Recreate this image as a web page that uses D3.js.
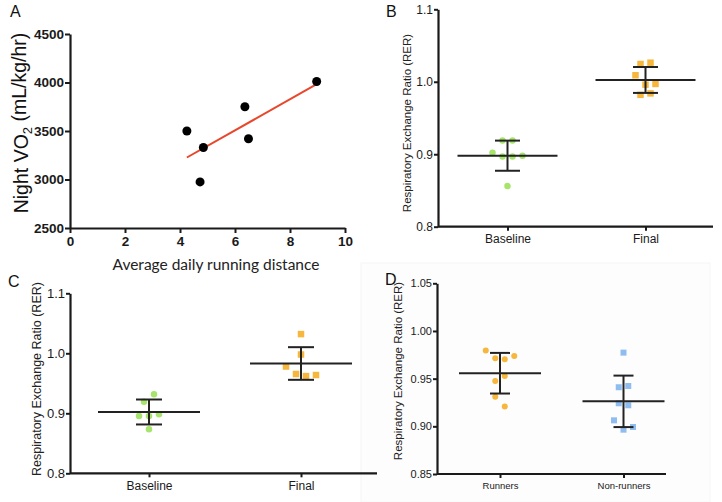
<!DOCTYPE html>
<html>
<head>
<meta charset="utf-8">
<script src="https://cdn.jsdelivr.net/npm/d3@7"></script>
<style>
  html, body { margin: 0; padding: 0; background: #ffffff; }
  svg { display: block; }
</style>
</head>
<body>
<svg id="chart" width="722" height="502"></svg>
<script>
// ---------------- DATA ----------------
// Panel A: night VO2 vs average daily running distance
const aDistance = [4.25, 4.85, 4.73, 6.36, 6.49, 8.97];
const aVO2 = [3500, 3330, 2975, 3750, 3420, 4010];
const aXTicks = [0, 2, 4, 6, 8, 10];
const aYTicks = [2500, 3000, 3500, 4000, 4500];

// Panel B: RER baseline vs final
const bCategories = ["Baseline", "Final"];
const bBaseline = [0.919, 0.919, 0.902, 0.897, 0.897, 0.898, 0.856];
const bFinal = [1.0245, 1.0263, 1.009, 0.996, 0.997, 0.982, 0.984];
const bMeans = [0.898, 1.0025];
const bSDs = [0.0208, 0.0179];
const bYTicks = [0.8, 0.9, 1.0, 1.1];

// Panel C: RER baseline vs final
const cCategories = ["Baseline", "Final"];
const cBaseline = [0.9194, 0.9317, 0.8955, 0.8955, 0.8983, 0.8733];
const cFinal = [1.032, 0.998, 0.978, 0.9655, 0.962, 0.9638];
const cMeans = [0.9022, 0.9830];
const cSDs = [0.0208, 0.0272];
const cYTicks = [0.8, 0.9, 1.0, 1.1];

// Panel D: RER runners vs non-runners
const dCategories = ["Runners", "Non-runners"];
const dRunners = [0.9794, 0.9714, 0.9703, 0.9738, 0.9476, 0.9528, 0.9311, 0.9207];
const dNonRunners = [0.9773, 0.941, 0.9423, 0.9242, 0.9221, 0.9063, 0.8965, 0.8993];
const dMeans = [0.9557, 0.9262];
const dSDs = [0.0213, 0.0270];
const dYTicks = [0.85, 0.90, 0.95, 1.00, 1.05];

// ---------------- DRAWING ----------------
const svg = d3.select("#chart");
const FONT = "'Liberation Sans', Arial, Helvetica, sans-serif";
const INK = "#1a1a1a";

// faint panel background in D
svg.append("rect").attr("x", 361).attr("y", 263).attr("width", 349).attr("height", 239)
  .attr("fill", "#fdfdfd").attr("stroke", "#f6f6f6").attr("stroke-width", 1);

function panelLabel(txt, x, y) {
  svg.append("text").attr("x", x).attr("y", y).text(txt)
    .attr("font-family", FONT).attr("font-size", 16).attr("fill", "#111");
}

function styleAxis(g, fontSize, weight) {
  g.select(".domain").attr("stroke", INK).attr("stroke-width", 2.2);
  g.selectAll(".tick line").attr("stroke", INK).attr("stroke-width", 2);
  g.selectAll(".tick text").attr("font-family", FONT).attr("font-size", fontSize)
    .attr("font-weight", weight).attr("fill", "#1a1a1a");
}

// ---- Panel A ----
(function () {
  const x = d3.scaleLinear().domain([0, 10]).range([70, 345]);
  const y = d3.scaleLinear().domain([2500, 4500]).range([228, 34]);

  const gx = svg.append("g").attr("transform", "translate(0,228)")
    .call(d3.axisBottom(x).tickValues(aXTicks).tickFormat(d3.format("d"))
      .tickSize(5).tickSizeOuter(0).tickPadding(3));
  styleAxis(gx, 13.5, "bold");
  const gy = svg.append("g").attr("transform", "translate(70,0)")
    .call(d3.axisLeft(y).tickValues(aYTicks).tickFormat(d3.format("d"))
      .tickSize(5).tickSizeOuter(0).tickPadding(1));
  styleAxis(gy, 13.5, "bold");

  // least-squares line
  const mx = d3.mean(aDistance), my = d3.mean(aVO2);
  let sxy = 0, sxx = 0;
  aDistance.forEach((d, i) => { sxy += (d - mx) * (aVO2[i] - my); sxx += (d - mx) * (d - mx); });
  const slope = sxy / sxx, intercept = my - slope * mx;
  const [x0, x1] = d3.extent(aDistance);
  svg.append("line")
    .attr("x1", x(x0)).attr("y1", y(intercept + slope * x0))
    .attr("x2", x(x1)).attr("y2", y(intercept + slope * x1))
    .attr("stroke", "#e8472c").attr("stroke-width", 2);

  svg.append("g").selectAll("circle").data(aDistance).join("circle")
    .attr("cx", d => x(d)).attr("cy", (d, i) => y(aVO2[i])).attr("r", 4.5)
    .attr("fill", "#000");

  const t = svg.append("text")
    .attr("transform", "translate(21,123) rotate(-90)")
    .attr("text-anchor", "middle").attr("dy", "0.35em")
    .attr("font-family", FONT).attr("font-size", 19.5).attr("fill", "#111");
  t.append("tspan").text("Night VO");
  t.append("tspan").text("2").attr("font-size", 13).attr("dy", "0.3em");
  t.append("tspan").text(" (mL/kg/hr)").attr("dy", "-0.3em");

  svg.append("text").attr("x", 216).attr("y", 270).attr("text-anchor", "middle")
    .attr("font-family", "Lato, 'Open Sans', sans-serif").attr("font-size", 15.5).attr("fill", "#222")
    .text("Average daily running distance");

  panelLabel("A", 10, 17);
})();

// ---- Generic dot/SD panel ----
function rowOffsets(values, y, threshold, spacing) {
  const idx = values.map((v, i) => i).sort((a, b) => y(values[a]) - y(values[b]));
  const offsets = new Array(values.length).fill(0);
  let group = [];
  let startY = null;
  const flush = () => {
    group.sort((a, b) => a - b);
    group.forEach((gi, k) => { offsets[gi] = (k - (group.length - 1) / 2) * spacing; });
    group = [];
  };
  idx.forEach(i => {
    const py = y(values[i]);
    if (startY === null || py - startY > threshold) { flush(); startY = py; }
    group.push(i);
  });
  flush();
  return offsets;
}

function dotPanel(cfg) {
  const y = d3.scaleLinear().domain(cfg.yDomain).range([cfg.bottom, cfg.top]);
  const x = d3.scalePoint().domain(cfg.categories).range(cfg.catRange);

  // axes
  svg.append("line").attr("x1", cfg.left).attr("x2", cfg.right)
    .attr("y1", cfg.bottom).attr("y2", cfg.bottom).attr("stroke", INK).attr("stroke-width", 2.2);
  const gx = svg.append("g").attr("transform", `translate(0,${cfg.bottom})`)
    .call(d3.axisBottom(x).tickSize(4).tickSizeOuter(0).tickPadding(4));
  gx.select(".domain").remove();
  styleAxis(gx, cfg.catFont, "normal");

  const gy = svg.append("g").attr("transform", `translate(${cfg.left},0)`)
    .call(d3.axisLeft(y).tickValues(cfg.yTicks).tickFormat(d3.format(cfg.fmt))
      .tickSize(4).tickSizeOuter(0).tickPadding(1));
  styleAxis(gy, cfg.tickFont, "normal");

  // points
  cfg.series.forEach((vals, si) => {
    const cx = x(cfg.categories[si]);
    const offs = rowOffsets(vals, y, cfg.rowThreshold, cfg.spacing);
    const g = svg.append("g");
    if (cfg.shapes[si] === "circle") {
      g.selectAll("circle").data(vals).join("circle")
        .attr("cx", (d, i) => cx + offs[i]).attr("cy", d => y(d))
        .attr("r", cfg.size / 2).attr("fill", cfg.colors[si]);
    } else {
      g.selectAll("rect").data(vals).join("rect")
        .attr("x", (d, i) => cx + offs[i] - cfg.size / 2).attr("y", d => y(d) - cfg.size / 2)
        .attr("width", cfg.size).attr("height", cfg.size).attr("fill", cfg.colors[si]);
    }
  });

  // mean and SD bars
  cfg.categories.forEach((c, i) => {
    const cx = x(c);
    const m = cfg.means[i], s = cfg.sds[i];
    const g = svg.append("g").attr("stroke", "#222").attr("stroke-width", 2);
    g.append("line").attr("x1", cx - cfg.meanHalf).attr("x2", cx + cfg.meanHalf)
      .attr("y1", y(m)).attr("y2", y(m));
    g.append("line").attr("x1", cx).attr("x2", cx).attr("y1", y(m + s)).attr("y2", y(m - s));
    [m + s, m - s].forEach(v => {
      g.append("line").attr("x1", cx - cfg.capHalf).attr("x2", cx + cfg.capHalf)
        .attr("y1", y(v)).attr("y2", y(v));
    });
  });

  svg.append("text")
    .attr("transform", `translate(${cfg.titleX},${cfg.titleY}) rotate(-90)`)
    .attr("text-anchor", "middle").attr("dy", "0.35em")
    .attr("font-family", FONT).attr("font-size", cfg.titleFont).attr("fill", "#222")
    .text("Respiratory Exchange Ratio (RER)");

  panelLabel(cfg.label, cfg.labelX, cfg.labelY);
}

const GREEN = "#a7e46b", ORANGE = "#f6b73c", BLUE = "#8fbdf0";

dotPanel({
  label: "B", labelX: 386, labelY: 17,
  categories: bCategories, series: [bBaseline, bFinal], means: bMeans, sds: bSDs,
  yDomain: [0.8, 1.1], yTicks: bYTicks, fmt: ".1f",
  left: 438, right: 713, top: 9.3, bottom: 226.7, catRange: [507.5, 645.5],
  shapes: ["circle", "square"], colors: [GREEN, ORANGE], size: 6.5,
  rowThreshold: 10, spacing: 10, meanHalf: 50, capHalf: 12.5,
  tickFont: 12, catFont: 12, titleFont: 11.5, titleX: 407, titleY: 123
});

dotPanel({
  label: "C", labelX: 8, labelY: 287,
  categories: cCategories, series: [cBaseline, cFinal], means: cMeans, sds: cSDs,
  yDomain: [0.8, 1.1], yTicks: cYTicks, fmt: ".1f",
  left: 70, right: 377, top: 293.3, bottom: 473.3, catRange: [149, 301],
  shapes: ["circle", "square"], colors: [GREEN, ORANGE], size: 6.5,
  rowThreshold: 10, spacing: 10, meanHalf: 51, capHalf: 13,
  tickFont: 13, catFont: 12, titleFont: 12.5, titleX: 36.5, titleY: 379
});

dotPanel({
  label: "D", labelX: 385, labelY: 285,
  categories: dCategories, series: [dRunners, dNonRunners], means: dMeans, sds: dSDs,
  yDomain: [0.85, 1.05], yTicks: dYTicks, fmt: ".2f",
  left: 437, right: 666, top: 283.3, bottom: 474, catRange: [500, 623.5],
  shapes: ["circle", "square"], colors: [ORANGE, BLUE], size: 6,
  rowThreshold: 10, spacing: 9.5, meanHalf: 41, capHalf: 10,
  tickFont: 11, catFont: 9.5, titleFont: 11.5, titleX: 398, titleY: 371
});
</script>
</body>
</html>
